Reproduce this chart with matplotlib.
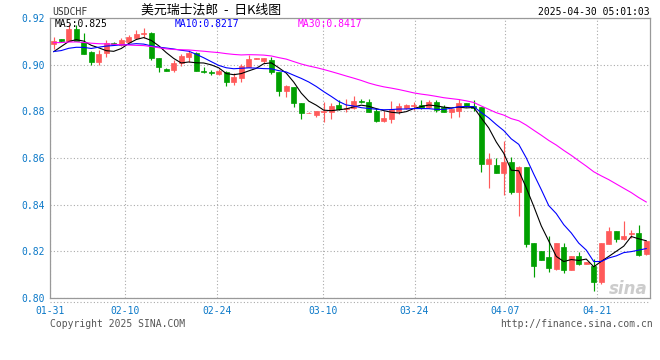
import matplotlib
matplotlib.use("Agg")
import matplotlib.pyplot as plt
import numpy as np
import pandas as pd
from matplotlib.lines import Line2D

# ---------------- data ----------------
opens = [0.9089, 0.9110, 0.9103, 0.9153, 0.9097, 0.9053, 0.9010, 0.9049, 0.9094, 0.9084,
         0.9099, 0.9113, 0.9130, 0.9137, 0.9027, 0.8982, 0.8977, 0.9006, 0.9032, 0.9049,
         0.8973, 0.8969, 0.8962, 0.8970, 0.8927, 0.8944, 0.8992, 0.9024, 0.9017, 0.9020,
         0.8970, 0.8889, 0.8906, 0.8837, 0.8792, 0.8786, 0.8796, 0.8797, 0.8826, 0.8812,
         0.8813, 0.8846, 0.8842, 0.8803, 0.8760, 0.8767, 0.8803, 0.8813, 0.8823, 0.8827,
         0.8820, 0.8839, 0.8820, 0.8799, 0.8803, 0.8837, 0.8824, 0.8820, 0.8574, 0.8570,
         0.8536, 0.8584, 0.8453, 0.8563, 0.8234, 0.8203, 0.8174, 0.8124, 0.8220, 0.8120,
         0.8181, 0.8144, 0.8139, 0.8067, 0.8231, 0.8287, 0.8253, 0.8273, 0.8280, 0.8189]
highs = [0.9120, 0.9112, 0.9174, 0.9170, 0.9134, 0.9060, 0.9063, 0.9106, 0.9097, 0.9113,
         0.9127, 0.9149, 0.9156, 0.9142, 0.9027, 0.8985, 0.9020, 0.9046, 0.9063, 0.9056,
         0.8991, 0.8977, 0.8980, 0.8973, 0.8963, 0.9003, 0.9041, 0.9028, 0.9027, 0.9032,
         0.8970, 0.8913, 0.8906, 0.8837, 0.8796, 0.8803, 0.8842, 0.8837, 0.8849, 0.8852,
         0.8866, 0.8851, 0.8853, 0.8813, 0.8802, 0.8844, 0.8834, 0.8832, 0.8842, 0.8849,
         0.8849, 0.8849, 0.8827, 0.8813, 0.8851, 0.8837, 0.8849, 0.8820, 0.8620, 0.8599,
         0.8674, 0.8603, 0.8566, 0.8563, 0.8234, 0.8203, 0.8266, 0.8234, 0.8234, 0.8180,
         0.8196, 0.8156, 0.8167, 0.8234, 0.8306, 0.8287, 0.8330, 0.8291, 0.8313, 0.8246]
lows = [0.9066, 0.9098, 0.9100, 0.9100, 0.9046, 0.8999, 0.8999, 0.9034, 0.9086, 0.9080,
        0.9096, 0.9109, 0.9113, 0.9020, 0.8970, 0.8972, 0.8970, 0.8994, 0.9013, 0.8974,
        0.8963, 0.8957, 0.8957, 0.8910, 0.8913, 0.8927, 0.8992, 0.9023, 0.9006, 0.8959,
        0.8866, 0.8863, 0.8820, 0.8766, 0.8791, 0.8777, 0.8756, 0.8767, 0.8806, 0.8799,
        0.8810, 0.8837, 0.8796, 0.8756, 0.8756, 0.8752, 0.8787, 0.8810, 0.8806, 0.8810,
        0.8816, 0.8796, 0.8796, 0.8770, 0.8776, 0.8820, 0.8801, 0.8541, 0.8470, 0.8534,
        0.8441, 0.8446, 0.8353, 0.8220, 0.8091, 0.8163, 0.8110, 0.8120, 0.8106, 0.8120,
        0.8141, 0.8144, 0.8031, 0.8059, 0.8231, 0.8241, 0.8249, 0.8259, 0.8181, 0.8184]
closes = [0.9103, 0.9100, 0.9153, 0.9103, 0.9046, 0.9013, 0.9046, 0.9092, 0.9089, 0.9106,
          0.9120, 0.9132, 0.9134, 0.9027, 0.8992, 0.8974, 0.9006, 0.9037, 0.9049, 0.8974,
          0.8970, 0.8966, 0.8973, 0.8927, 0.8949, 0.8994, 0.9024, 0.9027, 0.9027, 0.8967,
          0.8889, 0.8909, 0.8834, 0.8792, 0.8795, 0.8802, 0.8802, 0.8823, 0.8810, 0.8816,
          0.8844, 0.8839, 0.8799, 0.8760, 0.8773, 0.8810, 0.8823, 0.8827, 0.8827, 0.8816,
          0.8842, 0.8806, 0.8799, 0.8810, 0.8834, 0.8824, 0.8816, 0.8574, 0.8596, 0.8534,
          0.8581, 0.8453, 0.8563, 0.8231, 0.8137, 0.8163, 0.8127, 0.8234, 0.8120, 0.8180,
          0.8144, 0.8156, 0.8070, 0.8234, 0.8287, 0.8253, 0.8267, 0.8277, 0.8184, 0.8246]
# closes before the first visible candle (estimated, only used for moving averages)
prior_closes = [0.9080, 0.9085, 0.9090, 0.9120, 0.9105, 0.9110, 0.9115, 0.9140, 0.9160, 0.9165,
                0.9175, 0.9160, 0.9150, 0.9140, 0.9120, 0.9090, 0.9070, 0.9075, 0.9060, 0.9050,
                0.9060, 0.9055, 0.9060, 0.9050, 0.9060, 0.8990, 0.9045, 0.9065, 0.9076]

tick_pos = [-0.5, 9.55, 21.8, 35.9, 48.1, 60.2, 72.4]
tick_labels = ['01-31', '02-10', '02-24', '03-10', '03-24', '04-07', '04-21']
y_ticks = [0.80, 0.82, 0.84, 0.86, 0.88, 0.90, 0.92]

ma_windows = [5, 10, 30]
ma_colors = ['#000000', '#0000ff', '#ff00ff']
ma_labels = ['MA5:0.825', 'MA10:0.8217', 'MA30:0.8417']
ma_text_x = [55, 175, 298]

# ---------------- figure ----------------
W, H = 660, 360
fig = plt.figure(figsize=(6.6, 3.6), dpi=100)
fig.patch.set_facecolor('white')
L, R, T, B = 50, 650, 18, 298
ax = fig.add_axes([L / W, (H - B) / H, (R - L) / W, (B - T) / H])

n = len(closes)
x = np.arange(n)
o = np.array(opens); c = np.array(closes); h = np.array(highs); l = np.array(lows)
up = c >= o
red = '#ff5a5a'
green = '#00a000'
cols = np.where(up, red, green)

ax.vlines(x, l, h, colors=cols, linewidth=0.85, zorder=3)
bottoms = np.minimum(o, c)
heights = np.maximum(np.abs(c - o), 0.00004)
ax.bar(x, heights, bottom=bottoms, width=0.7, color=cols, edgecolor=cols,
       linewidth=0.5, zorder=4)

allc = pd.Series(prior_closes + closes)
npre = len(prior_closes)
for w, col in zip(ma_windows, ma_colors):
    ma = allc.rolling(w).mean().values[npre:]
    ax.plot(x, ma, color=col, linewidth=0.8, zorder=5)

ax.set_xlim(-0.5, n - 0.5)
ax.set_ylim(0.80, 0.92)
ax.set_yticks(y_ticks)
ax.set_yticklabels([f'{v:.2f}' for v in y_ticks])
ax.set_xticks(tick_pos)
ax.set_xticklabels(tick_labels)

lab_color = '#0a78c8'
mono = 'DejaVu Sans Mono'
ax.tick_params(axis='both', length=0, labelsize=7, labelcolor=lab_color)
ax.tick_params(axis='y', pad=3.5)
ax.tick_params(axis='x', pad=6)
for t in ax.get_xticklabels() + ax.get_yticklabels():
    t.set_fontfamily(mono)

ax.grid(True, color='#aaaaaa', linestyle=(0, (1, 2)), linewidth=0.8, zorder=0)
for s in ax.spines.values():
    s.set_color('#999999')
    s.set_linewidth(0.9)

# dotted line below the bottom axis
fig.add_artist(Line2D([L / W, R / W], [(H - 301.5) / H] * 2, color='#aaaaaa',
                      linestyle=(0, (1, 2)), linewidth=0.8))

# MA legends
for txt, col, tx in zip(ma_labels, ma_colors, ma_text_x):
    fig.text(tx / W, (H - 24) / H, txt, color=col, fontsize=7,
             family=mono, va='center', ha='left')

# header texts
fig.text(52 / W, (H - 12) / H, 'USDCHF', color='#333333', fontsize=7, family=mono,
         va='center', ha='left')
fig.text(141 / W, (H - 10) / H, '美元瑞士法郎  -  日K线图', color='#000000', fontsize=9.3,
         family=['Noto Sans CJK SC', 'DejaVu Sans'], va='center', ha='left')
fig.text(650 / W, (H - 12) / H, '2025-04-30 05:01:03', color='#000000', fontsize=7,
         family=mono, va='center', ha='right')

# footer texts
fig.text(50 / W, (H - 324) / H, 'Copyright 2025 SINA.COM', color='#555555', fontsize=7,
         family=mono, va='center', ha='left')
fig.text(653 / W, (H - 324) / H, 'http://finance.sina.com.cn', color='#555555', fontsize=7,
         family=mono, va='center', ha='right')

# watermark
fig.text(628 / W, (H - 289) / H, 'sina', color='#cccccc', fontsize=12, fontweight='bold',
         fontstyle='italic', va='center', ha='center', zorder=1)

fig.savefig('out.png', dpi=100, facecolor='white')
